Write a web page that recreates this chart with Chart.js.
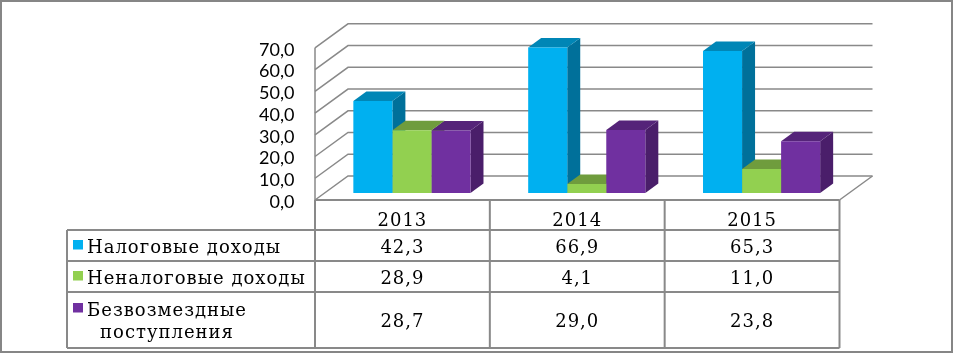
<!DOCTYPE html>
<html>
<head>
<meta charset="utf-8">
<script src="https://cdn.jsdelivr.net/npm/chart.js@4/dist/chart.umd.min.js"></script>
<style>
  html, body { margin: 0; padding: 0; background: #fff; }
  canvas { display: block; }
</style>
</head>
<body>
<canvas id="revenueChart" width="954" height="354"></canvas>
<script>
// Data
const categories = ['2013', '2014', '2015'];
const taxIncome = [42.3, 66.9, 65.3];
const nonTaxIncome = [28.9, 4.1, 11.0];
const grants = [28.7, 29.0, 23.8];
const seriesNames = [['Налоговые доходы'], ['Неналоговые доходы'], ['Безвозмездные', 'поступления']];
const yMin = 0;
const yMax = 70;
const yStep = 10;

// Face colours for the 3D bars: front, top, side
const colors = {
    tax:    { front: '#00B0F0', top: '#0086B6', side: '#00709A' },
    nonTax: { front: '#92D050', top: '#6F9C3D', side: '#5F8A33' },
    grants: { front: '#7030A0', top: '#552479', side: '#4A1E6A' },
    line: '#898989',
    text: '#000000'
};
const seriesColors = [colors.tax, colors.nonTax, colors.grants];

// Oblique offsets relative to the plane the bar fronts sit in
const FRONT = { dx: -9.5, dy: 7 };
const BACK = { dx: 23.5, dy: -17 };
const DEPTH = { dx: 13, dy: -9.5 };

const fmt = v => v.toFixed(1).replace('.', ',');

// Walls, grid and the bar sides/tops (drawn before the fronts)
const box3d = {
    id: 'box3d',
    beforeDatasetsDraw(chart) {
        const { ctx, chartArea: area } = chart;
        const y = chart.scales.y;
        ctx.save();
        ctx.strokeStyle = colors.line;
        ctx.lineWidth = 1.5;
        y.ticks.forEach(t => {
            const py = y.getPixelForValue(t.value);
            ctx.beginPath();
            ctx.moveTo(area.left + FRONT.dx, py + FRONT.dy);
            ctx.lineTo(area.left + BACK.dx, py + BACK.dy);
            ctx.lineTo(area.right + BACK.dx, py + BACK.dy);
            ctx.stroke();
        });
        const y0 = y.getPixelForValue(yMin);
        const y7 = y.getPixelForValue(yMax);
        ctx.beginPath();
        ctx.moveTo(area.right + BACK.dx, y0 + BACK.dy);
        ctx.lineTo(area.right + FRONT.dx, y0 + FRONT.dy);
        ctx.moveTo(area.left + FRONT.dx, y7 + FRONT.dy);
        ctx.lineTo(area.left + FRONT.dx, y0 + FRONT.dy);
        ctx.stroke();

        // sides and tops, category by category, left to right
        categories.forEach((c, i) => {
            chart.data.datasets.forEach((ds, d) => {
                const el = chart.getDatasetMeta(d).data[i];
                const { x, y: top, base, width } = el.getProps(['x', 'y', 'base', 'width'], true);
                const l = x - width / 2, r = x + width / 2;
                ctx.fillStyle = seriesColors[d].side;
                ctx.beginPath();
                ctx.moveTo(r, top);
                ctx.lineTo(r + DEPTH.dx, top + DEPTH.dy);
                ctx.lineTo(r + DEPTH.dx, base + DEPTH.dy);
                ctx.lineTo(r, base);
                ctx.closePath();
                ctx.fill();
                ctx.fillStyle = seriesColors[d].top;
                ctx.beginPath();
                ctx.moveTo(l, top);
                ctx.lineTo(r, top);
                ctx.lineTo(r + DEPTH.dx, top + DEPTH.dy);
                ctx.lineTo(l + DEPTH.dx, top + DEPTH.dy);
                ctx.closePath();
                ctx.fill();
            });
        });
        ctx.restore();
    },
    afterDraw(chart) {
        const { ctx, chartArea: area } = chart;
        const x = chart.scales.x;
        const y = chart.scales.y;
        const colW = (area.right - area.left) / categories.length;
        const top = y.getPixelForValue(yMin) + FRONT.dy;
        const rows = [top, top + 30, top + 61, top + 92, top + 148];
        const tableLeft = 67;
        const colL = area.left + FRONT.dx;
        const colR = area.right + FRONT.dx;

        ctx.save();
        ctx.strokeStyle = colors.line;
        ctx.lineWidth = 2;
        ctx.beginPath();
        ctx.moveTo(colL, rows[0]);
        ctx.lineTo(colR, rows[0]);
        for (let r = 1; r < rows.length; r++) {
            ctx.moveTo(tableLeft, rows[r]);
            ctx.lineTo(colR, rows[r]);
        }
        ctx.moveTo(tableLeft, rows[1]);
        ctx.lineTo(tableLeft, rows[4]);
        for (let i = 0; i <= categories.length; i++) {
            const px = colL + i * colW;
            ctx.moveTo(px, rows[0]);
            ctx.lineTo(px, rows[4]);
        }
        ctx.stroke();

        ctx.fillStyle = colors.text;
        ctx.font = '18px "DejaVu Serif"';
        ctx.letterSpacing = '1px';
        ctx.textAlign = 'center';
        ctx.textBaseline = 'alphabetic';
        const values = [taxIncome, nonTaxIncome, grants];
        const baseOff = [23, 23, 35];
        categories.forEach((c, i) => {
            const cx = x.getPixelForValue(i) + FRONT.dx;
            ctx.fillText(c, cx, rows[0] + 26);
            values.forEach((arr, s) => {
                ctx.fillText(fmt(arr[i]), cx, rows[s + 1] + baseOff[s]);
            });
        });

        // series labels with colour keys
        seriesNames.forEach((lines, s) => {
            ctx.fillStyle = seriesColors[s].front;
            ctx.fillRect(73, rows[s + 1] + (s === 2 ? 11 : 10), 10, 9.5);
            ctx.fillStyle = colors.text;
            ctx.textAlign = 'left';
            ctx.fillText(lines[0], 87, rows[s + 1] + (s === 2 ? 24 : 23));
            if (lines[1]) {
                const w0 = ctx.measureText(lines[0]).width;
                const w1 = ctx.measureText(lines[1]).width;
                ctx.fillText(lines[1], 87 + (w0 - w1) / 2, rows[s + 1] + 46);
            }
        });

        // outer frame
        ctx.strokeStyle = '#868686';
        ctx.lineWidth = 2;
        ctx.strokeRect(1, 1, 951, 351);
        ctx.restore();
    }
};

new Chart(document.getElementById('revenueChart'), {
    type: 'bar',
    data: {
        labels: categories,
        datasets: [
            { label: seriesNames[0].join(' '), data: taxIncome, backgroundColor: colors.tax.front },
            { label: seriesNames[1].join(' '), data: nonTaxIncome, backgroundColor: colors.nonTax.front },
            { label: seriesNames[2].join(' '), data: grants, backgroundColor: colors.grants.front }
        ]
    },
    options: {
        responsive: false,
        animation: false,
        layout: { padding: { left: 0, top: 36, right: 105, bottom: 161 } },
        datasets: { bar: { categoryPercentage: 0.67, barPercentage: 1 } },
        plugins: { legend: { display: false }, tooltip: { enabled: false } },
        scales: {
            x: { display: false },
            y: {
                min: yMin,
                max: yMax,
                grid: { display: false, drawTicks: false },
                border: { display: false },
                afterFit: scale => { scale.width = 324.5; },
                ticks: {
                    stepSize: yStep,
                    autoSkip: false,
                    padding: 30,
                    labelOffset: 9,
                    color: colors.text,
                    font: { family: 'Lato', size: 18 },
                    callback: v => fmt(v)
                }
            }
        }
    },
    plugins: [box3d]
});
</script>
</body>
</html>
